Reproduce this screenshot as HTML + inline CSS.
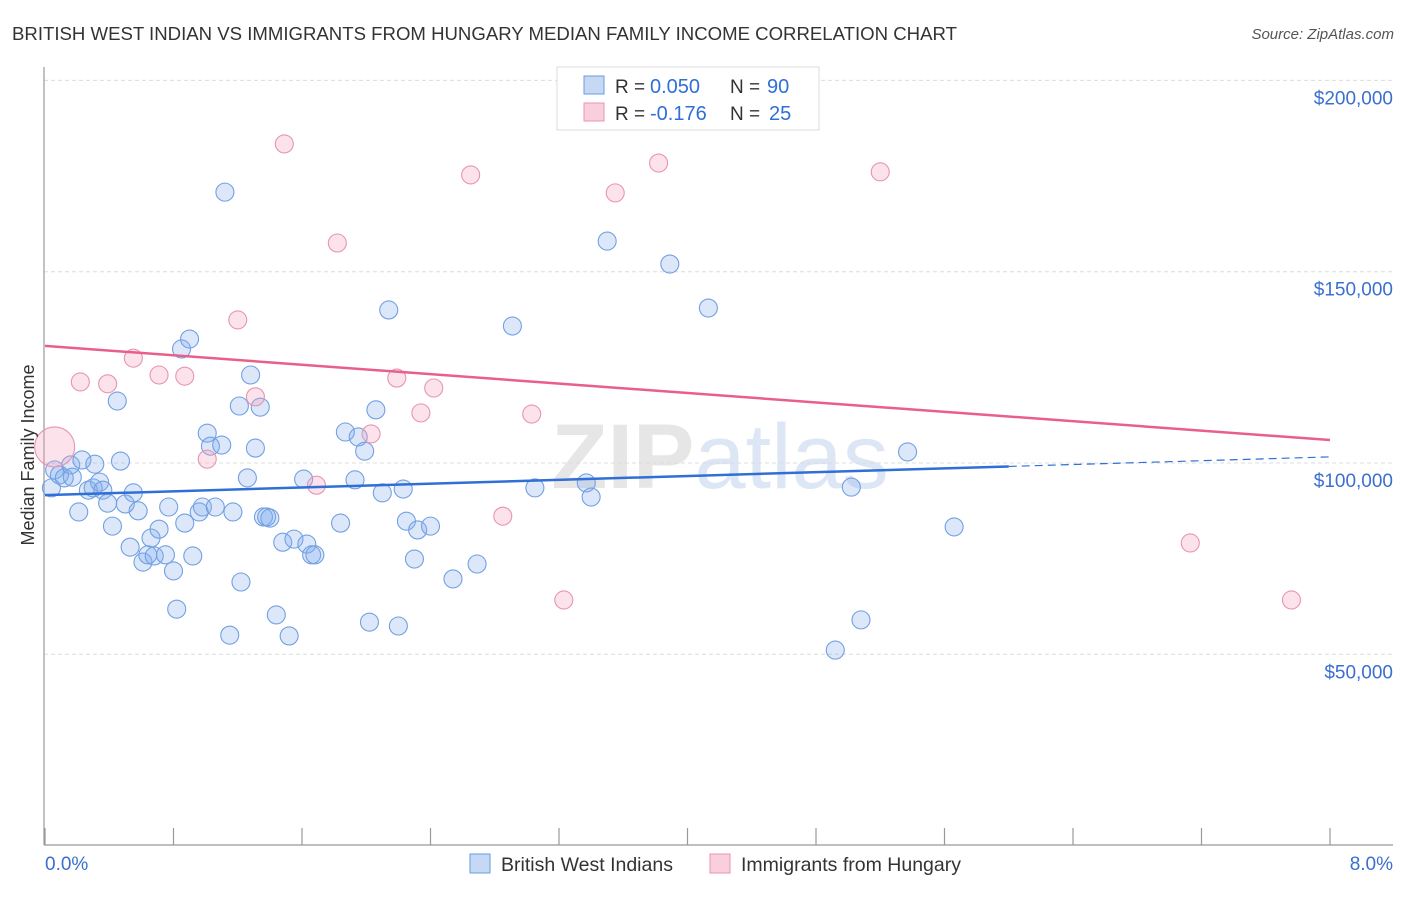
<!DOCTYPE html>
<html><head><meta charset="utf-8"><style>
body{margin:0;background:#fff;font-family:"Liberation Sans",sans-serif;}
svg text{font-family:"Liberation Sans",sans-serif;}
</style></head><body>
<svg id="chart" width="1406" height="892" xmlns="http://www.w3.org/2000/svg">
<text x="12" y="40" font-size="18.6" fill="#333">BRITISH WEST INDIAN VS IMMIGRANTS FROM HUNGARY MEDIAN FAMILY INCOME CORRELATION CHART</text>
<text x="1394" y="39" font-size="15" fill="#555" font-style="italic" text-anchor="end">Source: ZipAtlas.com</text>
<text x="720" y="488" font-size="92" fill="#e4e8ef" text-anchor="middle" font-family="Liberation Serif"><tspan font-weight="bold" fill="#e6e6e6">ZIP</tspan><tspan font-family="Liberation Sans" fill="#dde6f4">atlas</tspan></text>
<g id="grid"></g>
<g id="axes"></g>
<g id="pts"></g>
<g id="lines"></g>
<text transform="translate(34,455) rotate(-90)" font-size="18" fill="#333" text-anchor="middle">Median Family Income</text>
<text x="45" y="870" font-size="19" fill="#3a6fd0">0.0%</text>
<text x="1393" y="870" font-size="19" fill="#3a6fd0" text-anchor="end">8.0%</text>
<g>
<rect x="557" y="67" width="262" height="63" fill="#fff" stroke="#ddd"/>
<rect x="584" y="76" width="20" height="18" fill="#c5d9f5" stroke="#6a9be0"/>
<rect x="584" y="103" width="20" height="18" fill="#f9cfdc" stroke="#e895b0"/>
<text x="615" y="93" font-size="19" fill="#333">R =</text>
<text x="650" y="93" font-size="20" fill="#2f6fd6">0.050</text>
<text x="730" y="93" font-size="19" fill="#333">N =</text>
<text x="767" y="93" font-size="20" fill="#2f6fd6">90</text>
<text x="615" y="120" font-size="19" fill="#333">R =</text>
<text x="650" y="120" font-size="20" fill="#2f6fd6">-0.176</text>
<text x="730" y="120" font-size="19" fill="#333">N =</text>
<text x="769" y="120" font-size="20" fill="#2f6fd6">25</text>
</g>
<g>
<rect x="470" y="854" width="20" height="19" fill="#c5d9f5" stroke="#6a9be0"/>
<text x="501" y="871" font-size="19.5" fill="#333">British West Indians</text>
<rect x="710" y="854" width="20" height="19" fill="#f9cfdc" stroke="#e895b0"/>
<text x="741" y="871" font-size="19.5" fill="#333">Immigrants from Hungary</text>
</g>
</svg>
<script>
const blueX=[0.04,0.06,0.09,0.12,0.16,0.17,0.21,0.23,0.27,0.30,0.31,0.34,0.36,0.39,0.42,0.45,0.47,0.50,0.53,0.55,0.58,0.61,0.64,0.66,0.68,0.71,0.75,0.77,0.80,0.82,0.85,0.87,0.90,0.92,0.96,0.98,1.01,1.03,1.06,1.10,1.12,1.15,1.17,1.21,1.22,1.26,1.28,1.31,1.34,1.36,1.38,1.40,1.44,1.48,1.52,1.55,1.61,1.63,1.66,1.68,1.84,1.87,1.93,1.95,1.99,2.02,2.06,2.10,2.14,2.20,2.23,2.25,2.30,2.32,2.40,2.54,2.69,2.91,3.05,3.37,3.40,3.50,3.89,4.13,4.92,5.02,5.08,5.37,5.66];
const blueY=[93.5,98.2,96.9,96.1,99.5,96.3,87.2,100.8,92.9,93.5,99.7,95.0,92.9,89.5,83.5,116.2,100.5,89.3,78.0,92.2,87.5,74.1,76.0,80.4,75.7,82.7,76.0,88.5,71.8,61.8,129.8,84.3,132.4,75.7,87.2,88.5,107.8,104.4,88.5,104.7,170.8,55.0,87.2,114.9,68.9,96.1,123.0,103.9,114.6,85.9,85.9,85.6,60.3,79.3,54.8,80.1,95.8,78.8,76.0,76.0,84.3,108.1,95.6,106.8,103.1,58.4,113.9,92.2,140.0,57.4,93.2,84.8,74.9,82.5,83.5,69.7,73.6,135.8,93.5,94.8,91.1,158.0,152.0,140.5,51.1,93.7,59.0,102.9,83.3];
const pinkX=[0.06,0.22,0.39,0.55,0.71,0.87,1.01,1.20,1.31,1.49,1.69,1.82,2.03,2.19,2.34,2.42,2.65,2.85,3.03,3.23,3.55,3.82,5.20,7.13,7.76];
const pinkY=[104.2,121.2,120.7,127.4,123.0,122.7,101.0,137.4,117.3,183.4,94.2,157.5,107.6,122.2,113.1,119.6,175.3,86.1,112.8,64.2,170.6,178.4,176.1,79.1,64.2];
const pinkBig=[1,0,0,0,0,0,0,0,0,0,0,0,0,0,0,0,0,0,0,0,0,0,0,0,0];
const yTicks=[50,100,150,200];
const yTickLabels=["$50,000","$100,000","$150,000","$200,000"];
const blueTrend=[91.6,101.6];
const pinkTrend=[130.6,106.0];
const NS="http://www.w3.org/2000/svg";
function sx(p){return 45+p*(1330-45)/8;}
function sy(v){return 463-(v-100)*191.3/50;}
function mk(tag,attrs,parent){const e=document.createElementNS(NS,tag);for(const k in attrs)e.setAttribute(k,attrs[k]);parent.appendChild(e);return e;}
const grid=document.getElementById('grid'),axes=document.getElementById('axes'),pts=document.getElementById('pts'),lines=document.getElementById('lines');
yTicks.forEach((t,i)=>{
 const l=mk('line',{x1:44,x2:1393,y1:sy(t),y2:sy(t),stroke:'#dcdcdc','stroke-dasharray':'4,3'},grid);
 
 
 const tx=mk('text',{x:1393,y:sy(t)+24,'font-size':19,fill:'#3a6fd0','text-anchor':'end'},grid);
 tx.textContent=yTickLabels[i];
 
 
});
const ya=mk('line',{x1:44,x2:44,y1:67,y2:845,stroke:'#999','stroke-width':1.2},axes);


const xa=mk('line',{x1:44,x2:1393,y1:845,y2:845,stroke:'#999','stroke-width':1.2},axes);


for(let i=0;i<=10;i++){
 const t=mk('line',{x1:sx(i*0.8),x2:sx(i*0.8),y1:828,y2:845,stroke:'#999','stroke-width':1.2},axes);
 
 
}
blueX.forEach((x,i)=>{
 const c=mk('circle',{cx:sx(x),cy:sy(blueY[i]),r:9,fill:'rgba(130,172,238,0.28)',stroke:'#72a0e2','stroke-width':1.1},pts);
 
 
});
pinkX.forEach((x,i)=>{
 const c=mk('circle',{cx:sx(x),cy:sy(pinkY[i]),r:pinkBig[i]?20:9,fill:'rgba(245,160,190,0.3)',stroke:'#e895b0','stroke-width':1.1},pts);
 
 
});
const bx2=6.0, by2=blueTrend[0]+(blueTrend[1]-blueTrend[0])*bx2/8;
const b1=mk('line',{x1:sx(0),y1:sy(blueTrend[0]),x2:sx(bx2),y2:sy(by2),stroke:'#2f6fd6','stroke-width':2.5},lines);


const b2=mk('line',{x1:sx(bx2),y1:sy(by2),x2:sx(8),y2:sy(blueTrend[1]),stroke:'#2f6fd6','stroke-width':1.2,'stroke-dasharray':'8,5'},lines);


const p1=mk('line',{x1:sx(0),y1:sy(pinkTrend[0]),x2:sx(8),y2:sy(pinkTrend[1]),stroke:'#e8608a','stroke-width':2.5},lines);


</script>
</body></html>
